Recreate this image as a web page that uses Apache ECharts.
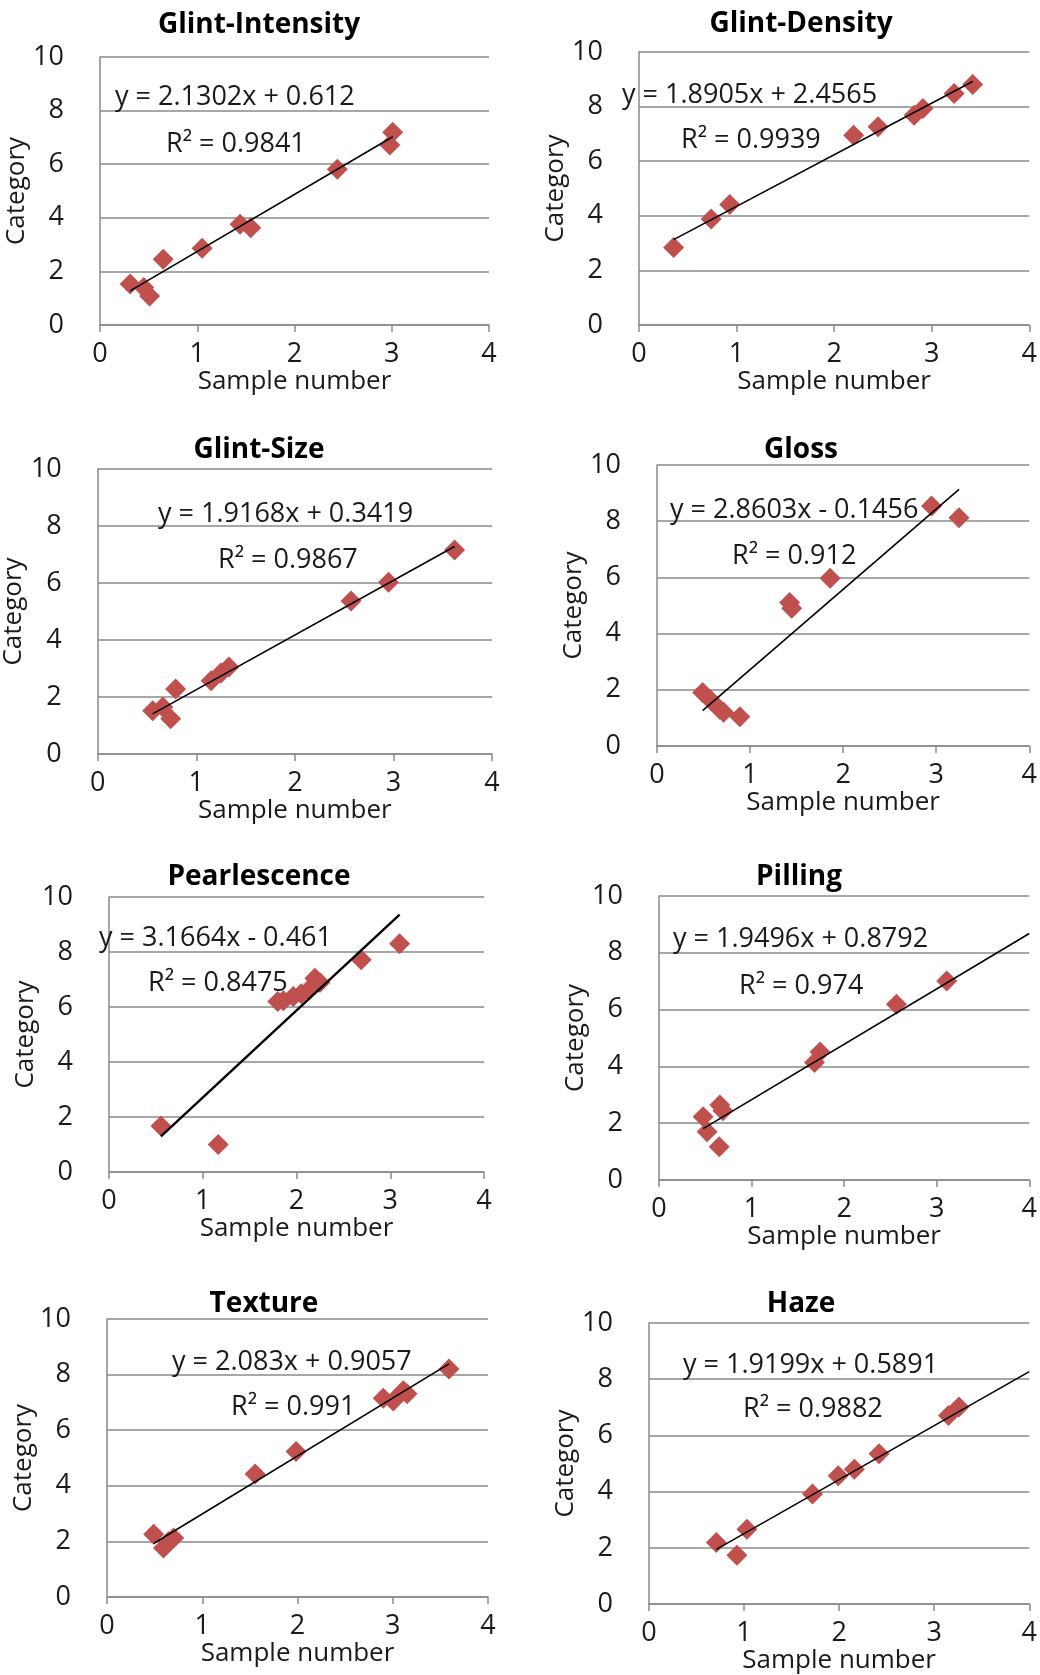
<!DOCTYPE html>
<html>
<head>
<meta charset="utf-8">
<script src="https://cdn.jsdelivr.net/npm/echarts@6/dist/echarts.min.js"></script>
<style>
  html, body { margin: 0; padding: 0; background: #fff; }
  #main { width: 1040px; height: 1675px; }
</style>
</head>
<body>
<div id="main"></div>
<script>
var titles = ['Glint-Intensity', 'Glint-Density', 'Glint-Size', 'Gloss', 'Pearlescence', 'Pilling', 'Texture', 'Haze'];

var intensityX = [0.31, 0.45, 0.51, 0.65, 1.05, 1.44, 1.55, 2.44, 2.98, 3.01];
var intensityY = [1.53, 1.40, 1.08, 2.45, 2.86, 3.76, 3.63, 5.81, 6.72, 7.19];
var densityX = [0.355, 0.74, 0.93, 2.20, 2.45, 2.82, 2.91, 3.23, 3.42];
var densityY = [2.84, 3.88, 4.41, 6.95, 7.26, 7.68, 7.93, 8.48, 8.81];
var sizeX = [0.557, 0.66, 0.74, 0.79, 1.15, 1.25, 1.33, 2.57, 2.95, 3.62];
var sizeY = [1.52, 1.65, 1.24, 2.28, 2.57, 2.84, 3.05, 5.37, 6.03, 7.16];
var glossX = [0.49, 0.567, 0.673, 0.716, 0.89, 1.425, 1.447, 1.86, 2.95, 3.245];
var glossY = [1.90, 1.66, 1.31, 1.20, 1.04, 5.11, 4.90, 5.97, 8.54, 8.12];
var pearlX = [0.554, 1.165, 1.80, 1.86, 1.965, 2.05, 2.125, 2.196, 2.25, 2.69, 3.10];
var pearlY = [1.67, 1.00, 6.20, 6.23, 6.38, 6.48, 6.61, 7.05, 6.89, 7.72, 8.30];
var pillingX = [0.477, 0.52, 0.65, 0.657, 0.69, 1.68, 1.74, 2.565, 3.108];
var pillingY = [2.23, 1.70, 1.17, 2.64, 2.44, 4.14, 4.51, 6.19, 7.01];
var textureX = [0.49, 0.593, 0.646, 0.70, 1.555, 1.985, 2.90, 3.005, 3.11, 3.15, 3.59];
var textureY = [2.26, 1.76, 2.00, 2.12, 4.42, 5.23, 7.15, 7.05, 7.42, 7.31, 8.20];
var hazeX = [0.708, 0.925, 1.03, 1.72, 1.99, 2.16, 2.42, 3.15, 3.26];
var hazeY = [2.19, 1.74, 2.66, 3.92, 4.57, 4.80, 5.35, 6.71, 7.01];

var xLists = [intensityX, densityX, sizeX, glossX, pearlX, pillingX, textureX, hazeX];
var yLists = [intensityY, densityY, sizeY, glossY, pearlY, pillingY, textureY, hazeY];

// trendline y = slope*x + intercept, as printed on each panel
var slopes = [2.1302, 1.8905, 1.9168, 2.8603, 3.1664, 1.9496, 2.083, 1.9199];
var intercepts = [0.612, 2.4565, 0.3419, -0.1456, -0.461, 0.8792, 0.9057, 0.5891];
var eqTexts = ['y = 2.1302x + 0.612', 'y = 1.8905x + 2.4565', 'y = 1.9168x + 0.3419', 'y = 2.8603x - 0.1456',
  'y = 3.1664x - 0.461', 'y = 1.9496x + 0.8792', 'y = 2.083x + 0.9057', 'y = 1.9199x + 0.5891'];
var r2Texts = ['R² = 0.9841', 'R² = 0.9939', 'R² = 0.9867', 'R² = 0.912', 'R² = 0.8475', 'R² = 0.974', 'R² = 0.991', 'R² = 0.9882'];
// panels whose trendline is forecast out to x = 4
var trendToEnd = [false, false, false, false, false, true, false, true];

var xTicks = [0, 1, 2, 3, 4];
var yTicks = [0, 2, 4, 6, 8, 10];

// plot boxes: left, top, width, height
var boxes = [
  [100, 57, 389, 268], [639, 52, 394, 273],
  [97, 469, 395, 285], [657, 465, 376, 281],
  [109, 897, 375, 275], [659, 896, 372, 284],
  [107, 1319, 381, 278], [649, 1323, 386, 283]
];
var titlePos = [[259, 25], [801, 24], [259, 450], [801, 450], [259, 877], [799, 877], [264, 1304], [801, 1304]];
var eqPos = [[115, 97], [622, 95], [158, 514], [670, 510], [99, 938], [673, 939], [172, 1362], [683, 1365]];
var r2Pos = [[166, 144], [681, 140], [218, 560], [732, 556], [148, 983], [739, 986], [231, 1407], [743, 1409]];

var FONT = '"Open Sans", "Noto Sans", sans-serif';
var gray = '#8a8a8a';

var grids = [], xAxes = [], yAxes = [], series = [], graphics = [];

for (var i = 0; i < 8; i++) {
  var b = boxes[i];
  grids.push({ left: b[0], top: b[1], width: b[2], height: b[3], containLabel: false });
  xAxes.push({
    gridIndex: i, type: 'value', min: xTicks[0], max: xTicks[xTicks.length - 1], interval: 1,
    name: 'Sample number', nameLocation: 'middle', nameGap: 40,
    nameTextStyle: { fontFamily: FONT, fontSize: 26, color: '#1a1a1a' },
    axisLine: { show: true, lineStyle: { color: gray, width: 1.5 } },
    axisTick: { show: true, length: 7, lineStyle: { color: gray, width: 1.5 } },
    axisLabel: { margin: 16, fontFamily: FONT, fontSize: 27, color: '#1a1a1a' },
    splitLine: { show: false }
  });
  yAxes.push({
    gridIndex: i, type: 'value', min: yTicks[0], max: yTicks[yTicks.length - 1], interval: 2,
    name: 'Category', nameLocation: 'middle', nameGap: 64, nameRotate: 90,
    nameTextStyle: { fontFamily: FONT, fontSize: 26, color: '#1a1a1a' },
    axisLine: { show: true, lineStyle: { color: gray, width: 1.5 } },
    axisTick: { show: false },
    axisLabel: { margin: 36, fontFamily: FONT, fontSize: 27, color: '#1a1a1a' },
    splitLine: { show: true, lineStyle: { color: gray, width: 1.5 } }
  });

  var xs = xLists[i], ys = yLists[i];
  var pts = [];
  for (var k = 0; k < xs.length; k++) pts.push([xs[k], ys[k]]);
  series.push({
    type: 'scatter', xAxisIndex: i, yAxisIndex: i, data: pts,
    symbol: 'diamond', symbolSize: 21,
    itemStyle: { color: '#c0504d', opacity: 1 }, z: 2
  });

  var x0 = Math.min.apply(null, xs);
  var x1 = trendToEnd[i] ? 4 : Math.max.apply(null, xs);
  series.push({
    type: 'line', xAxisIndex: i, yAxisIndex: i,
    data: [[x0, slopes[i] * x0 + intercepts[i]], [x1, slopes[i] * x1 + intercepts[i]]],
    symbol: 'none', silent: true, clip: true,
    lineStyle: { color: '#000', width: i === 4 ? 2.4 : 1.6 }, z: 3
  });

  graphics.push({
    type: 'text', x: titlePos[i][0], y: titlePos[i][1],
    style: { text: titles[i], font: 'bold 28px ' + FONT, fill: '#000', align: 'center', verticalAlign: 'middle' }
  });
  graphics.push({
    type: 'text', x: eqPos[i][0], y: eqPos[i][1], z: 10,
    style: { text: eqTexts[i], font: '27px ' + FONT, fill: '#1a1a1a', align: 'left', verticalAlign: 'middle' }
  });
  graphics.push({
    type: 'text', x: r2Pos[i][0], y: r2Pos[i][1], z: 10,
    style: { text: r2Texts[i], font: '27px ' + FONT, fill: '#1a1a1a', align: 'left', verticalAlign: 'middle' }
  });
}

var chart = echarts.init(document.getElementById('main'));
chart.setOption({
  animation: false,
  backgroundColor: '#fff',
  grid: grids,
  xAxis: xAxes,
  yAxis: yAxes,
  series: series,
  graphic: graphics
});
</script>
</body>
</html>
